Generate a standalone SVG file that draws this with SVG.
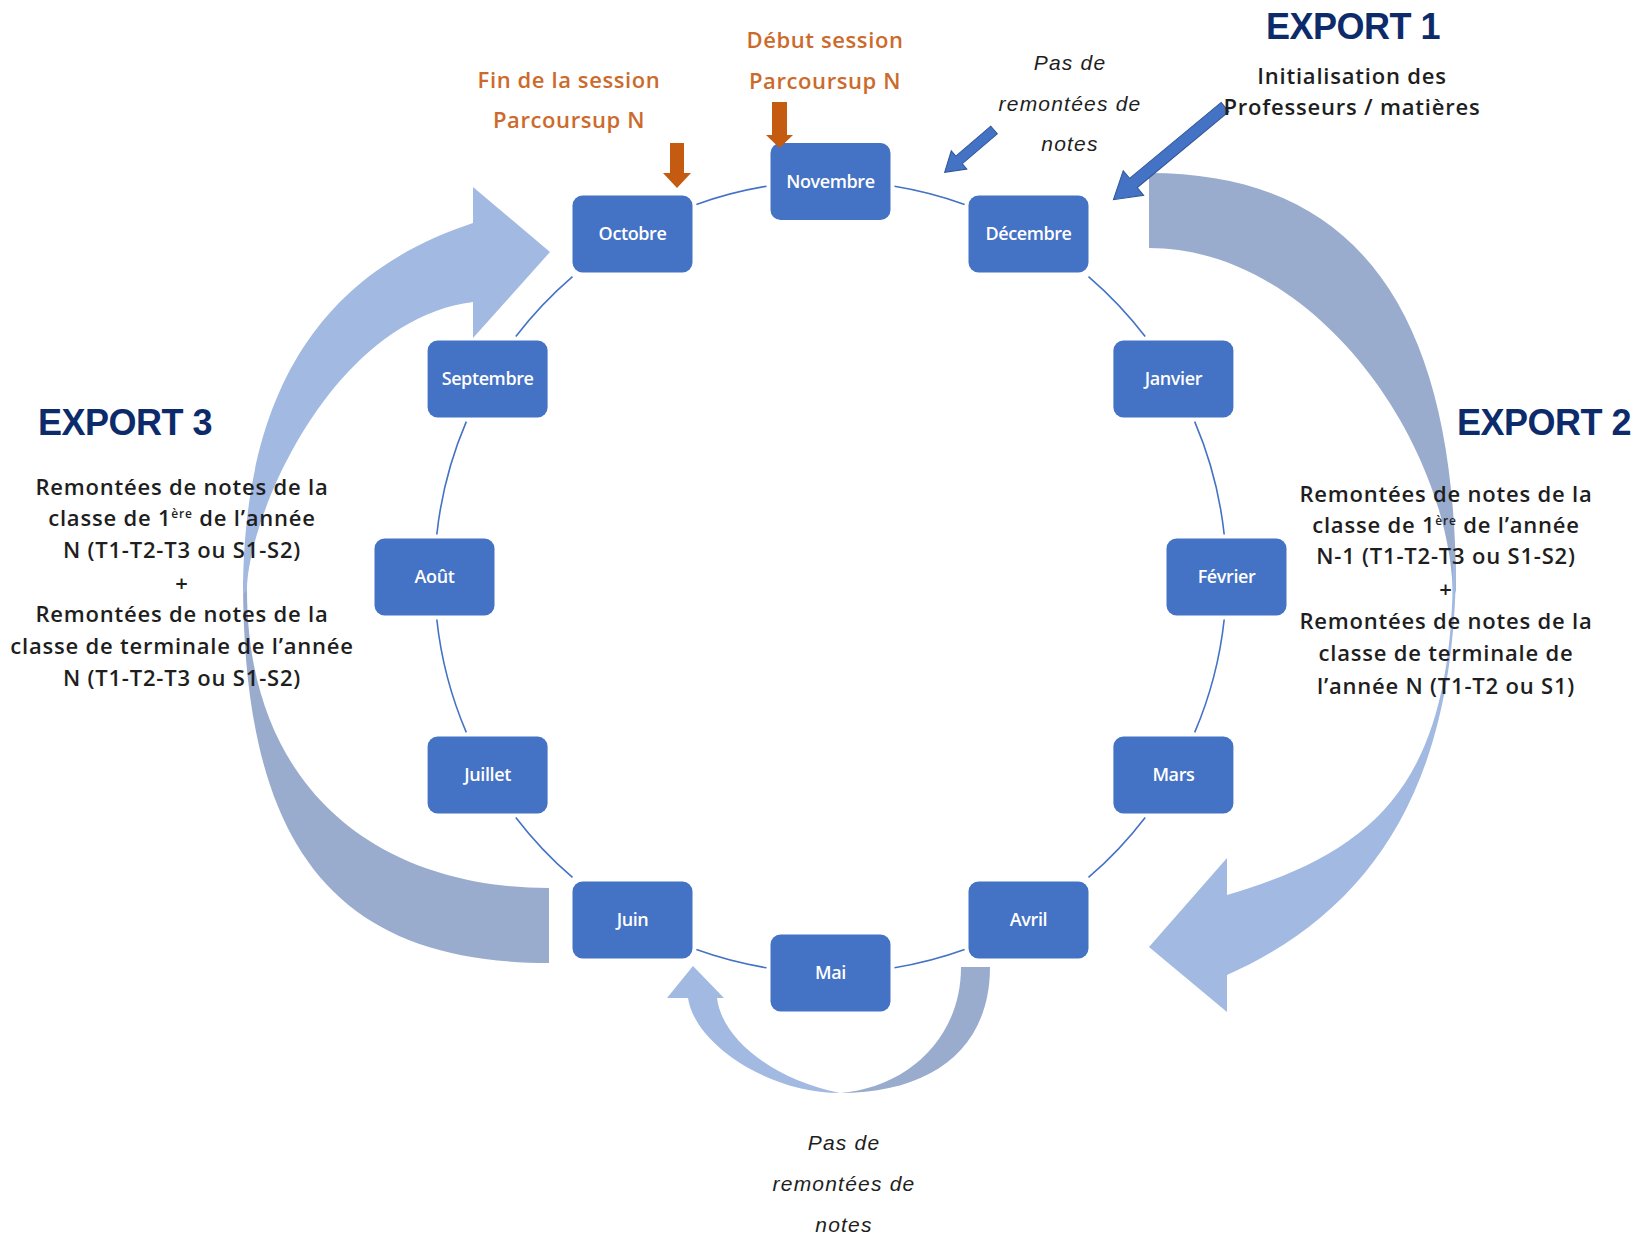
<svg xmlns="http://www.w3.org/2000/svg" width="1642" height="1239" viewBox="0 0 1642 1239">
<style>
.bg{fill:#ffffff}
.back{fill:#9AACCE}
.front{fill:#A2B9E1}
.conn{fill:none;stroke:#4472C4;stroke-width:1.6}
.box{fill:#4472C4}
.lbl{font-family:"Open Sans","Liberation Sans",sans-serif;font-weight:600;font-size:18px;fill:#ffffff;text-anchor:middle;letter-spacing:-0.4px}
.title{font-family:"Liberation Sans",Arial,sans-serif;font-weight:bold;font-size:36px;fill:#0D2B6B;text-anchor:middle;letter-spacing:-0.5px}
.body{font-family:"Open Sans","Liberation Sans",sans-serif;font-weight:600;font-size:22px;fill:#1E1E1E;text-anchor:middle;letter-spacing:0.8px}
.ital{font-family:"Liberation Sans",Arial,sans-serif;font-style:italic;font-size:21px;fill:#1E1E1E;text-anchor:middle;letter-spacing:1.2px}
.orange{font-family:"Open Sans","Liberation Sans",sans-serif;font-weight:600;font-size:22px;fill:#CC6A2C;text-anchor:middle;letter-spacing:0.6px}
.oarrow{fill:#C55A11}
.barrow{fill:#4472C4;stroke:#2F5597;stroke-width:1}
</style>
<rect class="bg" x="0" y="0" width="1642" height="1239"/>

<g id="big-arrows">
  <!-- Export 2 (right) -->
  <path class="back" d="M1149,173 C1364,173 1456,320 1456,590 L1453,600 C1453,450 1319,248 1149,248 Z"/>
  <path class="front" d="M1456,560 C1456,780 1377,908 1227,975 L1227,1012 L1149,947 L1227,858 L1227,895 C1380,850 1453,780 1453,565 Z"/>
  <!-- Export 3 (left) -->
  <path class="back" d="M549,963 C329,963 243,840 243,580 L247,590 C247,790 379,888 549,888 Z"/>
  <path class="front" d="M243,595 C243,380 330,270 473,223 L473,187 L550,252 L473,338 L473,302 C330,320 247,520 247,590 Z"/>
  <!-- bottom small arrow -->
  <path class="back" d="M961,967 L990,967 C990,1050 930,1093 840,1093 C905,1088 961,1040 961,967 Z"/>
  <path class="front" d="M840,1093 C770,1093 695,1045 688,998 L667,998 L693,966 L724,998 L717,998 C722,1040 775,1080 840,1093 Z"/>
</g>

<g id="connectors">
  <path class="conn" d="M894.5,186.2 A396,396 0 0 1 964.6,204.4"/>
  <path class="conn" d="M1088.5,276.6 A396,396 0 0 1 1145.2,336.6"/>
  <path class="conn" d="M1194.7,421.6 A396,396 0 0 1 1224.2,534.5"/>
  <path class="conn" d="M1224.2,619.5 A396,396 0 0 1 1194.7,732.4"/>
  <path class="conn" d="M1145.2,817.4 A396,396 0 0 1 1088.5,877.4"/>
  <path class="conn" d="M964.6,949.6 A396,396 0 0 1 894.5,967.8"/>
  <path class="conn" d="M766.5,967.8 A396,396 0 0 1 696.4,949.6"/>
  <path class="conn" d="M572.5,877.4 A396,396 0 0 1 515.8,817.4"/>
  <path class="conn" d="M466.3,732.4 A396,396 0 0 1 436.8,619.5"/>
  <path class="conn" d="M436.8,534.5 A396,396 0 0 1 466.3,421.6"/>
  <path class="conn" d="M515.8,336.6 A396,396 0 0 1 572.5,276.6"/>
  <path class="conn" d="M696.4,204.4 A396,396 0 0 1 766.5,186.2"/>
</g>

<g id="node-novembre"><rect class="box" x="770.5" y="143" width="120" height="77" rx="10"/><text class="lbl" x="830.5" y="187.5">Novembre</text></g>
<g id="node-decembre"><rect class="box" x="968.5" y="195.5" width="120" height="77" rx="10"/><text class="lbl" x="1028.5" y="240">Décembre</text></g>
<g id="node-janvier"><rect class="box" x="1113.4" y="340.5" width="120" height="77" rx="10"/><text class="lbl" x="1173.4" y="385">Janvier</text></g>
<g id="node-fevrier"><rect class="box" x="1166.5" y="538.5" width="120" height="77" rx="10"/><text class="lbl" x="1226.5" y="583">Février</text></g>
<g id="node-mars"><rect class="box" x="1113.4" y="736.5" width="120" height="77" rx="10"/><text class="lbl" x="1173.4" y="781">Mars</text></g>
<g id="node-avril"><rect class="box" x="968.5" y="881.5" width="120" height="77" rx="10"/><text class="lbl" x="1028.5" y="926">Avril</text></g>
<g id="node-mai"><rect class="box" x="770.5" y="934.5" width="120" height="77" rx="10"/><text class="lbl" x="830.5" y="979">Mai</text></g>
<g id="node-juin"><rect class="box" x="572.5" y="881.5" width="120" height="77" rx="10"/><text class="lbl" x="632.5" y="926">Juin</text></g>
<g id="node-juillet"><rect class="box" x="427.6" y="736.5" width="120" height="77" rx="10"/><text class="lbl" x="487.6" y="781">Juillet</text></g>
<g id="node-aout"><rect class="box" x="374.5" y="538.5" width="120" height="77" rx="10"/><text class="lbl" x="434.5" y="583">Août</text></g>
<g id="node-septembre"><rect class="box" x="427.6" y="340.5" width="120" height="77" rx="10"/><text class="lbl" x="487.6" y="385">Septembre</text></g>
<g id="node-octobre"><rect class="box" x="572.5" y="195.5" width="120" height="77" rx="10"/><text class="lbl" x="632.5" y="240">Octobre</text></g>

<g id="pointer-arrows">
  <polygon class="oarrow" points="670,143 684,143 684,173 691,173 677,188 663,173 670,173"/>
  <polygon class="oarrow" points="772,102 787,102 787,135 793,135 779.5,148 766,135 772,135"/>
  <polygon class="barrow" transform="translate(994,130) rotate(139.4)" points="0,-5 46,-5 46,-12 65,0 46,12 46,5 0,5"/>
  <polygon class="barrow" transform="translate(1225,107) rotate(140.3)" points="0,-6 119,-6 119,-16 145,0 119,16 119,6 0,6"/>
</g>

<g id="labels">
  <text class="orange" x="569" y="88">Fin de la session</text>
  <text class="orange" x="569" y="128">Parcoursup N</text>
  <text class="orange" x="825" y="48">Début session</text>
  <text class="orange" x="825" y="89">Parcoursup N</text>

  <text class="ital" x="1070" y="70">Pas de</text>
  <text class="ital" x="1070" y="111">remontées de</text>
  <text class="ital" x="1070" y="151">notes</text>

  <text class="title" x="1353" y="39">EXPORT 1</text>
  <text class="body" x="1352" y="84">Initialisation des</text>
  <text class="body" x="1352" y="115">Professeurs / matières</text>

  <text class="title" x="1544" y="435">EXPORT 2</text>
  <text class="body" x="1446" y="502">Remontées de notes de la</text>
  <text class="body" x="1446" y="533">classe de 1<tspan dy="-8" font-size="12">ère</tspan><tspan dy="8"> de l’année</tspan></text>
  <text class="body" x="1446" y="564">N-1 (T1-T2-T3 ou S1-S2)</text>
  <text class="body" x="1446" y="597">+</text>
  <text class="body" x="1446" y="629">Remontées de notes de la</text>
  <text class="body" x="1446" y="661">classe de terminale de</text>
  <text class="body" x="1446" y="694">l’année N (T1-T2 ou S1)</text>

  <text class="title" x="125" y="435">EXPORT 3</text>
  <text class="body" x="182" y="495">Remontées de notes de la</text>
  <text class="body" x="182" y="526">classe de 1<tspan dy="-8" font-size="12">ère</tspan><tspan dy="8"> de l’année</tspan></text>
  <text class="body" x="182" y="558">N (T1-T2-T3 ou S1-S2)</text>
  <text class="body" x="182" y="591">+</text>
  <text class="body" x="182" y="622">Remontées de notes de la</text>
  <text class="body" x="182" y="654">classe de terminale de l’année</text>
  <text class="body" x="182" y="686">N (T1-T2-T3 ou S1-S2)</text>

  <text class="ital" x="844" y="1150">Pas de</text>
  <text class="ital" x="844" y="1191">remontées de</text>
  <text class="ital" x="844" y="1232">notes</text>
</g>
</svg>
